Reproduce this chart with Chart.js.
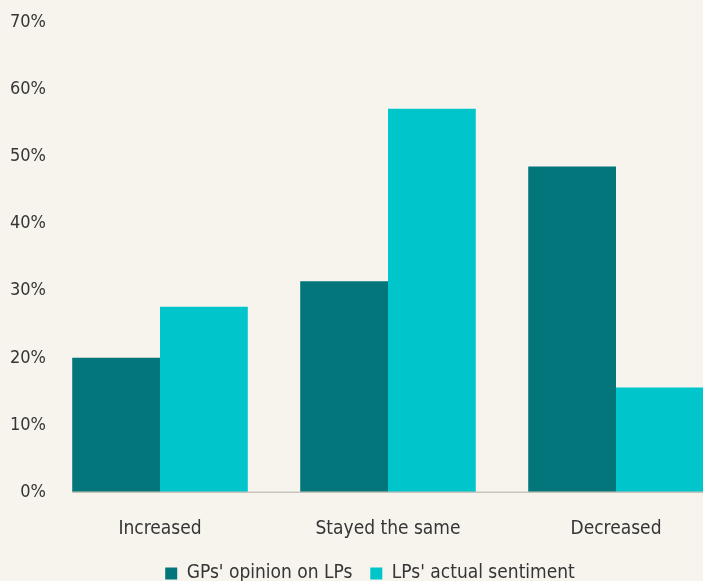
<!DOCTYPE html>
<html>
<head>
<meta charset="utf-8">
<script src="https://cdn.jsdelivr.net/npm/chart.js@4.4.1/dist/chart.umd.min.js"></script>
<style>
    html, body { margin: 0; padding: 0; background: #f7f4ee; overflow: hidden; }
    #wrap { width: 730px; height: 593px; position: relative; }
</style>
</head>
<body>
<div id="wrap"><canvas id="sentimentChart"></canvas></div>
<script>
var categories = ["Increased", "Stayed the same", "Decreased"];
var gpOpinion = [20, 31.4, 48.5];
var lpSentiment = [27.6, 57.1, 15.6];
var yTicks = [0, 10, 20, 30, 40, 50, 60, 70];

var textColor = "#353535";
var fontFamily = "'DejaVu Sans Condensed', 'Liberation Sans Narrow', sans-serif";

// baseline under the bars, starting at the left edge of the first bar
var baselinePlugin = {
    id: 'baseline',
    afterDatasetsDraw: function (chart) {
        var first = chart.getDatasetMeta(0).data[0];
        var y = chart.scales.y.getPixelForValue(0);
        var ctx = chart.ctx;
        ctx.save();
        ctx.strokeStyle = "#c8c3bb";
        ctx.lineWidth = 1.5;
        ctx.beginPath();
        ctx.moveTo(first.x - first.width / 2, y);
        ctx.lineTo(chart.chartArea.right, y);
        ctx.stroke();
        ctx.restore();
    }
};

var ctx = document.getElementById("sentimentChart").getContext("2d");
var myChart = new Chart(ctx, {
    type: "bar",
    data: {
        labels: categories,
        datasets: [
            {
                label: "GPs' opinion on LPs",
                data: gpOpinion,
                backgroundColor: "#02767a"
            },
            {
                label: "LPs' actual sentiment",
                data: lpSentiment,
                backgroundColor: "#00c5cb"
            }
        ]
    },
    options: {
        responsive: true,
        maintainAspectRatio: false,
        animation: false,
        categoryPercentage: 0.77,
        barPercentage: 1,
        layout: {
            padding: { left: 10, right: 0, top: 22, bottom: 0 }
        },
        scales: {
            x: {
                grid: { display: false },
                border: { display: false },
                ticks: {
                    color: textColor,
                    padding: 17,
                    font: { family: fontFamily, size: 19 }
                }
            },
            y: {
                min: 0,
                max: 70,
                grid: { display: false, tickLength: 0 },
                border: { display: false },
                afterBuildTicks: function (scale) {
                    scale.ticks = yTicks.map(function (v) { return { value: v }; });
                },
                afterFit: function (scale) {
                    scale.width = 36;
                },
                ticks: {
                    color: textColor,
                    padding: 0,
                    font: { family: fontFamily, size: 18 },
                    callback: function (value) { return value + "%"; }
                }
            }
        },
        plugins: {
            legend: {
                position: "bottom",
                labels: {
                    color: textColor,
                    boxWidth: 12,
                    boxHeight: 12,
                    padding: 7,
                    font: { family: fontFamily, size: 19 },
                    generateLabels: function (chart) {
                        var items = Chart.defaults.plugins.legend.labels.generateLabels(chart);
                        // extra room between the two entries
                        items.forEach(function (item, i) {
                            if (i < items.length - 1) item.text = item.text + "  ";
                        });
                        return items;
                    }
                }
            },
            tooltip: { enabled: false }
        }
    },
    plugins: [baselinePlugin]
});
</script>
</body>
</html>
